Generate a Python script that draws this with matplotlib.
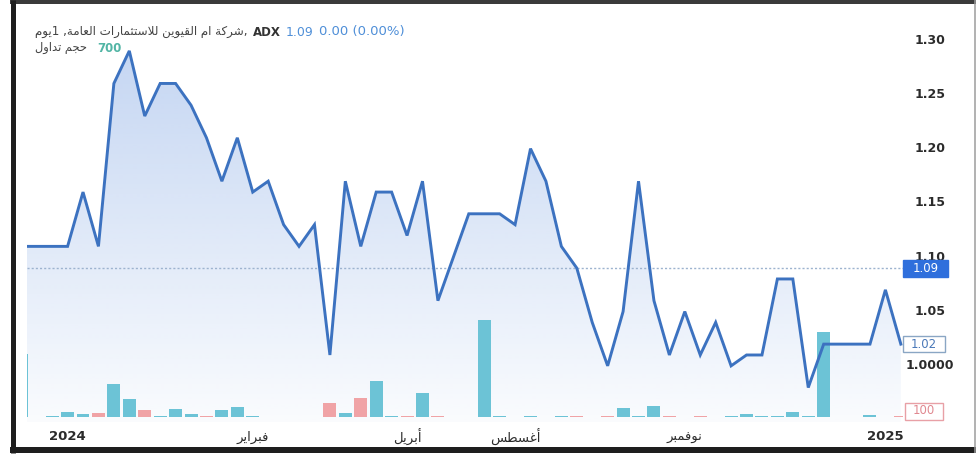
import numpy as np
import matplotlib
matplotlib.use('Agg')
import matplotlib.pyplot as plt
from matplotlib.patches import Polygon, Rectangle
from matplotlib.lines import Line2D
from matplotlib.transforms import IdentityTransform
from matplotlib.colors import to_rgb

# ---------------- data ----------------
prices = [1.11, 1.11, 1.11, 1.11, 1.16, 1.11, 1.26, 1.29, 1.23, 1.26,
          1.26, 1.24, 1.21, 1.17, 1.21, 1.16, 1.17, 1.13, 1.11, 1.13,
          1.01, 1.17, 1.11, 1.16, 1.16, 1.12, 1.17, 1.06, 1.10, 1.14,
          1.14, 1.14, 1.13, 1.20, 1.17, 1.11, 1.09, 1.04, 1.00, 1.05,
          1.17, 1.06, 1.01, 1.05, 1.01, 1.04, 1.00, 1.01, 1.01, 1.08,
          1.08, 0.98, 1.02, 1.02, 1.02, 1.02, 1.07, 1.02]
volumes = [9600, 50, 150, 750, 500, 600, 5000, 2700, 1050, 80,
           1200, 500, 150, 1050, 1500, 80, 50, 50, 50, 50,
           2100, 600, 2850, 5400, 80, 100, 3600, 220, 50, 50,
           14700, 220, 50, 150, 50, 150, 150, 50, 220, 1350,
           150, 1650, 100, 50, 220, 50, 80, 520, 80, 80,
           750, 150, 12900, 50, 50, 300, 50, 100]
vol_up = [1, 1, 1, 1, 1, 0, 1, 1, 0, 1,
          1, 1, 0, 1, 1, 1, 0, 1, 1, 1,
          0, 1, 0, 1, 1, 0, 1, 0, 1, 1,
          1, 1, 0, 1, 0, 1, 0, 0, 0, 1,
          1, 1, 0, 0, 0, 0, 1, 1, 1, 1,
          1, 1, 1, 1, 1, 1, 1, 0]
x_tick_pos = [3, 15, 25, 32, 43, 56]
x_tick_labels = ['2024', 'فبراير', 'أبريل', 'أغسطس', 'نوفمبر', '2025']
x_tick_bold = [True, False, False, False, False, True]
price_ticks = [1.00, 1.05, 1.10, 1.15, 1.20, 1.25, 1.30]
price_tick_labels = ['1.0000', '1.05', '1.10', '1.15', '1.20', '1.25', '1.30']
header_price = 1.09
last_close = 1.02
last_volume = 100
header_volume = 700
title_ar = 'شركة ام القيوين للاستثمارات العامة, 1يوم'
volume_ar = 'حجم تداول'

# ---------------- minimal Arabic shaping ----------------
FORMS = {
    'ا': ('\uFE8D', '\uFE8E', None, None),
    'أ': ('\uFE83', '\uFE84', None, None),
    'ب': ('\uFE8F', '\uFE90', '\uFE91', '\uFE92'),
    'ة': ('\uFE93', '\uFE94', None, None),
    'ت': ('\uFE95', '\uFE96', '\uFE97', '\uFE98'),
    'ث': ('\uFE99', '\uFE9A', '\uFE9B', '\uFE9C'),
    'ج': ('\uFE9D', '\uFE9E', '\uFE9F', '\uFEA0'),
    'ح': ('\uFEA1', '\uFEA2', '\uFEA3', '\uFEA4'),
    'د': ('\uFEA9', '\uFEAA', None, None),
    'ر': ('\uFEAD', '\uFEAE', None, None),
    'س': ('\uFEB1', '\uFEB2', '\uFEB3', '\uFEB4'),
    'ش': ('\uFEB5', '\uFEB6', '\uFEB7', '\uFEB8'),
    'ط': ('\uFEC1', '\uFEC2', '\uFEC3', '\uFEC4'),
    'ع': ('\uFEC9', '\uFECA', '\uFECB', '\uFECC'),
    'غ': ('\uFECD', '\uFECE', '\uFECF', '\uFED0'),
    'ف': ('\uFED1', '\uFED2', '\uFED3', '\uFED4'),
    'ق': ('\uFED5', '\uFED6', '\uFED7', '\uFED8'),
    'ك': ('\uFED9', '\uFEDA', '\uFEDB', '\uFEDC'),
    'ل': ('\uFEDD', '\uFEDE', '\uFEDF', '\uFEE0'),
    'م': ('\uFEE1', '\uFEE2', '\uFEE3', '\uFEE4'),
    'ن': ('\uFEE5', '\uFEE6', '\uFEE7', '\uFEE8'),
    'ه': ('\uFEE9', '\uFEEA', '\uFEEB', '\uFEEC'),
    'و': ('\uFEED', '\uFEEE', None, None),
    'ي': ('\uFEF1', '\uFEF2', '\uFEF3', '\uFEF4'),
}
LAM_ALEF = {'ا': ('\uFEFB', '\uFEFC'), 'أ': ('\uFEF7', '\uFEF8')}


def shape(text):
    chars = list(text)
    n = len(chars)
    out = []

    def joins_next(c):
        return c in FORMS and FORMS[c][2] is not None

    i = 0
    while i < n:
        c = chars[i]
        if c not in FORMS:
            out.append(c)
            i += 1
            continue
        prev = chars[i - 1] if i > 0 else None
        cp = prev is not None and joins_next(prev)
        if c == 'ل' and i + 1 < n and chars[i + 1] in LAM_ALEF:
            iso, fin = LAM_ALEF[chars[i + 1]]
            out.append(fin if cp else iso)
            i += 2
            continue
        nxt = chars[i + 1] if i + 1 < n else None
        cn = joins_next(c) and nxt in FORMS
        iso, fin, ini, med = FORMS[c]
        if cp and cn:
            g = med
        elif cp:
            g = fin
        elif cn:
            g = ini
        else:
            g = iso
        out.append(g)
        i += 1
    return ''.join(reversed(out))


# ---------------- figure ----------------
W, H = 978, 462
fig = plt.figure(figsize=(W / 100, H / 100), dpi=100)
fig.patch.set_facecolor('white')

L, R, T, B = 27, 903, 12, 422
rect = [L / W, (H - B) / H, (R - L) / W, (B - T) / H]
ax_fill = fig.add_axes(rect, zorder=0)
ax_vol = fig.add_axes(rect, zorder=1, sharex=ax_fill)
ax_line = fig.add_axes(rect, zorder=2, sharex=ax_fill)
for a in (ax_vol, ax_line):
    a.patch.set_visible(False)

x = np.arange(len(prices))
XMIN, XMAX = 0.37, 57.14
PMIN, PMAX = 0.9483, 1.3258
VMIN, VMAX = -758, 61366

line_color = '#3c72c0'
teal = '#6cc3d6'
pink = '#f0a3a6'

# gradient fill under the line
verts = [(x[0], PMIN)] + list(zip(x, prices)) + [(x[-1], PMIN)]
poly = Polygon(verts, closed=True, facecolor='none', edgecolor='none')
ax_fill.add_patch(poly)
n = 256
rgba = np.zeros((n, 1, 4))
rgba[..., :3] = to_rgb('#4a80d8')
rgba[:, 0, 3] = np.linspace(0.32, 0.03, n)
im = ax_fill.imshow(rgba, extent=[x[0], x[-1], PMIN, max(prices)],
                    aspect='auto', origin='upper', zorder=1, interpolation='bilinear')
im.set_clip_path(poly)
ax_fill.set_xlim(XMIN, XMAX)
ax_fill.set_ylim(PMIN, PMAX)

# volume bars
colors = [teal if u else pink for u in vol_up]
ax_vol.bar(x, volumes, width=0.84, color=colors, linewidth=0)
ax_vol.set_ylim(VMIN, VMAX)

# price line
ax_line.axhline(header_price, color='#9db3cf', lw=1.0, ls=(0, (1.5, 1.5)))
ax_line.plot(x, prices, color=line_color, lw=2.1, solid_joinstyle='miter')
ax_line.set_ylim(PMIN, PMAX)
ax_line.set_xlim(XMIN, XMAX)

for a in (ax_fill, ax_vol, ax_line):
    for s in a.spines.values():
        s.set_visible(False)
    a.set_xticks([])
    a.set_yticks([])

# y labels on the right
lab_x = (930 - L) / (R - L)
for v, t in zip(price_ticks, price_tick_labels):
    ax_line.text(lab_x, v, t, transform=ax_line.get_yaxis_transform(),
                 ha='center', va='center', fontsize=9, fontweight='bold',
                 color='#2b2b2b', clip_on=False)

# x labels
lab_y = (H - 437 - (H - B)) / (B - T)
for p, t, b in zip(x_tick_pos, x_tick_labels, x_tick_bold):
    txt = t if t.isdigit() else shape(t)
    ax_line.text(p, lab_y, txt, transform=ax_line.get_xaxis_transform(),
                 ha='center', va='center', fontsize=9.5,
                 fontweight='bold' if b else 'normal', color='#2b2b2b',
                 family='DejaVu Sans', clip_on=False)

# price / volume boxes on the scale
fig.canvas.draw()


def add_box(cy, x0, x1, hgt, fc, ec, text, tc):
    fig.add_artist(Rectangle((x0, H - cy - hgt / 2), x1 - x0, hgt,
                             transform=IdentityTransform(), facecolor=fc,
                             edgecolor=ec, linewidth=1.0, zorder=5))
    fig.text((x0 + x1) / 2 / W, 1 - cy / H, text, ha='center', va='center',
             fontsize=8.5, color=tc, zorder=6)


cy_hp = H - ax_line.transData.transform((0, header_price))[1]
cy_lc = H - ax_line.transData.transform((0, last_close))[1]
add_box(cy_hp, 903, 948, 17, '#2f6fdc', '#2f6fdc', f'{header_price:.2f}', 'white')
add_box(cy_lc, 903, 945, 16, 'white', '#8aa6c4', f'{last_close:.2f}', '#4a78b8')
add_box(411, 905, 943, 17, 'white', '#e8a0a6', f'{last_volume}', '#e08890')

# header legend
fig.text(35 / W, 1 - 32 / H, shape(title_ar) + ',', ha='left', va='center',
         fontsize=8.6, color='#444444', family='DejaVu Sans')
fig.text(253 / W, 1 - 32 / H, 'ADX', ha='left', va='center', fontsize=8.5,
         fontweight='bold', color='#333333')
fig.text(286 / W, 1 - 32 / H, f'{header_price:.2f}', ha='left', va='center',
         fontsize=9, color='#4f8fd8')
fig.text(319 / W, 1 - 32 / H, '0.00 (0.00%)', ha='left', va='center',
         fontsize=9.5, color='#4f8fd8')
fig.text(35 / W, 1 - 48 / H, shape(volume_ar), ha='left', va='center',
         fontsize=8.3, color='#444444', family='DejaVu Sans')
fig.text(97 / W, 1 - 48 / H, f'{header_volume}', ha='left', va='center',
         fontsize=8.5, fontweight='bold', color='#52b5a5')


# scanned frame
def fline(xs, ys, lw_px, color):
    fig.add_artist(Line2D([v / W for v in xs], [1 - v / H for v in ys],
                          transform=fig.transFigure, lw=lw_px * 0.72,
                          color=color, solid_capstyle='butt', zorder=10))


fline([10, 976], [2, 2], 4, '#3a3a3a')
fline([13, 13], [0, 453], 5, '#1e1e1e')
fline([10, 976], [450, 450], 6, '#1e1e1e')
fline([975, 975], [0, 453], 1.5, '#9a9a9a')

fig.savefig('out.png', dpi=100)
